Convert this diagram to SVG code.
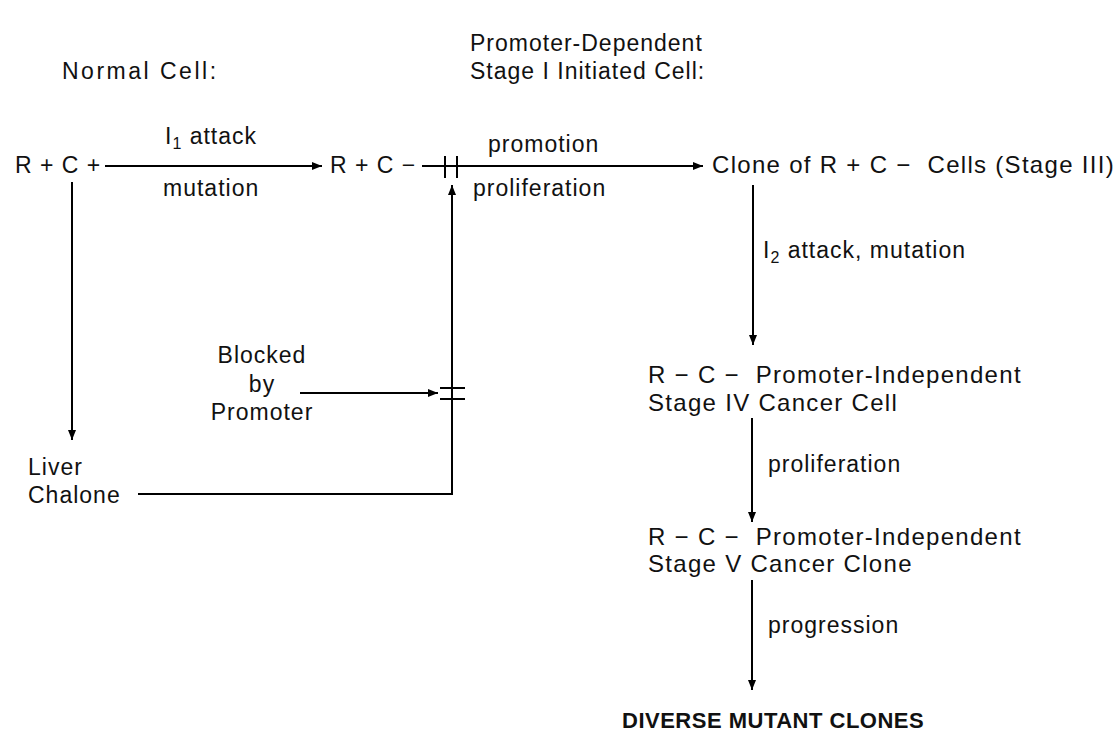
<svg xmlns="http://www.w3.org/2000/svg" width="1115" height="745" viewBox="0 0 1115 745">
<defs>
<marker id="ah" viewBox="0 0 10 8" refX="10" refY="4" markerWidth="10" markerHeight="8" markerUnits="userSpaceOnUse" orient="auto">
<path d="M0,0 L10,4 L0,8 Z" fill="#000"/>
</marker>
<style>
text{font-family:"Liberation Sans",Arial,Helvetica,sans-serif;font-size:23px;letter-spacing:1px;fill:#111;white-space:pre}
.w{font-size:24px;letter-spacing:1.3px}
.b{font-weight:bold;font-size:22px;letter-spacing:0.5px}
.m{text-anchor:middle}
.ln{stroke:#000;stroke-width:2;fill:none}
.ar{stroke:#000;stroke-width:2;fill:none;marker-end:url(#ah)}
</style>
</defs>
<rect width="1115" height="745" fill="#fff"/>
<g id="headers">
<text x="62" y="79" style="letter-spacing:2.5px">Normal Cell:</text>
<text x="470" y="51">Promoter-Dependent</text>
<text x="470" y="79">Stage I Initiated Cell:</text>
</g>
<g id="node-normal"><text x="15" y="173">R + C +</text></g>
<g id="node-initiated"><text x="330" y="173">R + C −</text></g>
<g id="node-clone"><text class="w" x="712" y="173">Clone of R + C −  Cells (Stage III)</text></g>
<g id="node-stage4">
<text class="w" x="648" y="383">R − C −  Promoter-Independent</text>
<text class="w" x="648" y="411">Stage IV Cancer Cell</text>
</g>
<g id="node-stage5">
<text class="w" x="648" y="545">R − C −  Promoter-Independent</text>
<text class="w" x="648" y="572">Stage V Cancer Clone</text>
</g>
<g id="node-diverse"><text class="b" x="622" y="728">DIVERSE MUTANT CLONES</text></g>
<g id="node-chalone">
<text x="28" y="475">Liver</text>
<text x="28" y="503">Chalone</text>
</g>
<g id="node-blocked">
<text class="m" x="262" y="363">Blocked</text>
<text class="m" x="262" y="392">by</text>
<text class="m" x="262" y="420">Promoter</text>
</g>
<g id="connectors">
<line class="ar" x1="105" y1="166" x2="322" y2="166"/>
<text x="165" y="144">I<tspan font-size="16" dy="5">1</tspan><tspan dy="-5"> attack</tspan></text>
<text x="163" y="196">mutation</text>
<line class="ar" x1="72" y1="182" x2="72" y2="440"/>
<line class="ar" x1="422" y1="166" x2="703" y2="166"/>
<line class="ln" x1="445" y1="156" x2="445" y2="178"/>
<line class="ln" x1="457" y1="156" x2="457" y2="178"/>
<text x="488" y="152">promotion</text>
<text x="473" y="196">proliferation</text>
<polyline class="ar" points="138,494 452,494 452,185"/>
<line class="ar" x1="300" y1="393" x2="438" y2="393"/>
<line class="ln" x1="440" y1="388" x2="465" y2="388"/>
<line class="ln" x1="440" y1="399" x2="465" y2="399"/>
<line class="ar" x1="753" y1="185" x2="753" y2="345"/>
<text x="763" y="258">I<tspan font-size="16" dy="5">2</tspan><tspan dy="-5"> attack, mutation</tspan></text>
<line class="ar" x1="752" y1="418" x2="752" y2="522"/>
<text x="768" y="472">proliferation</text>
<line class="ar" x1="752" y1="580" x2="752" y2="690"/>
<text x="768" y="633">progression</text>
</g>
</svg>
